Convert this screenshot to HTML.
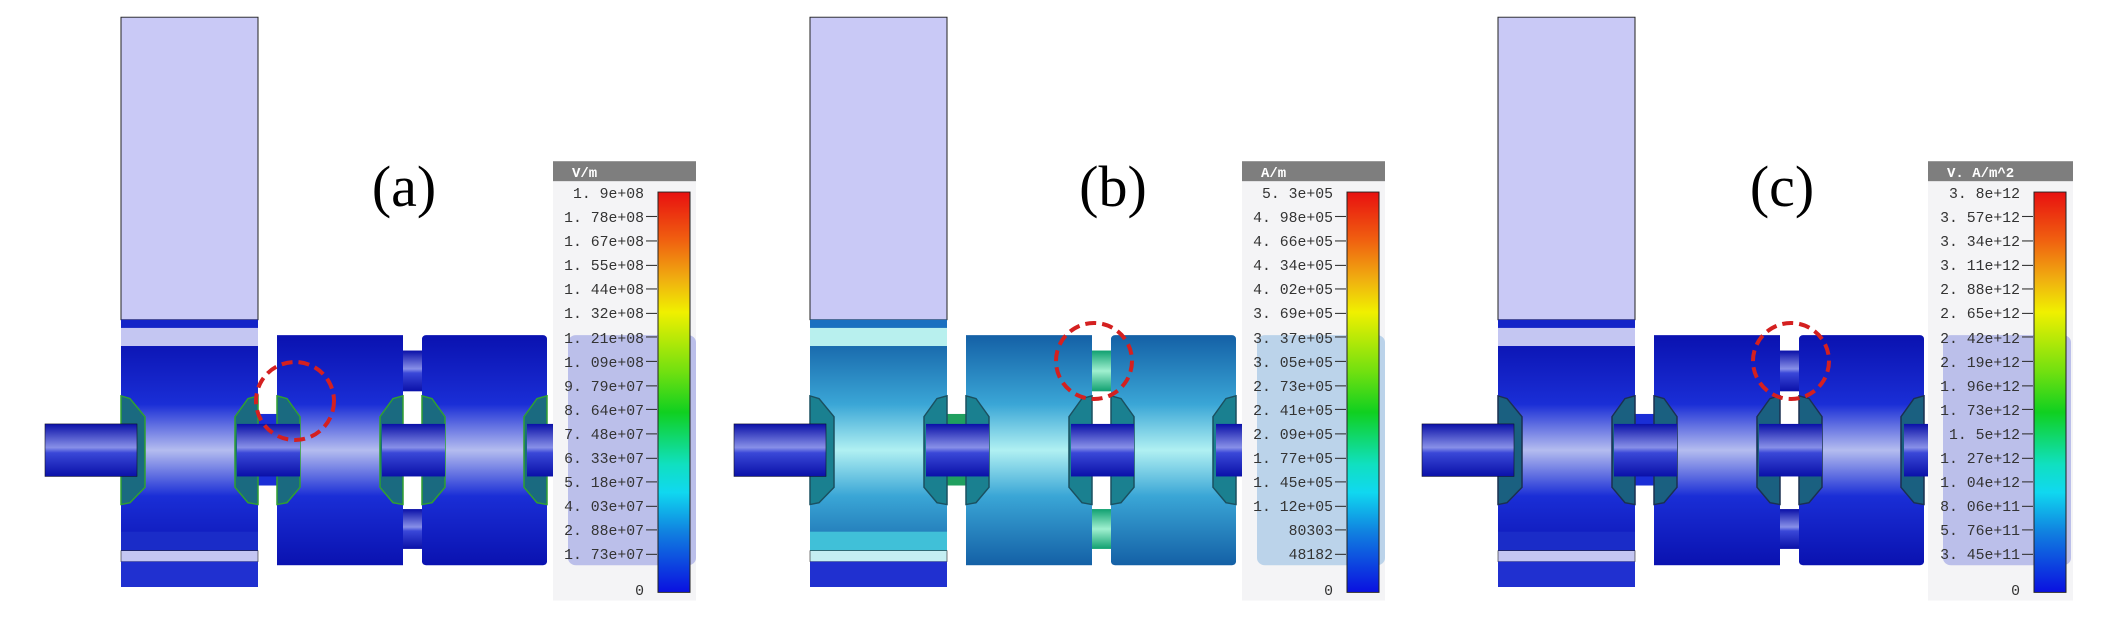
<!DOCTYPE html>
<html><head><meta charset="utf-8"><style>
html,body{margin:0;padding:0;background:#fff;width:2101px;height:634px;overflow:hidden}
svg{display:block}
.lbl{font-family:"Liberation Mono",monospace;font-size:14.8px;fill:#333;text-anchor:end}
.hdr{font-family:"Liberation Mono",monospace;font-size:14px;font-weight:bold;fill:#fff}
.big{font-family:"Liberation Serif",serif;font-size:58px;fill:#000;text-anchor:middle}
</style></head><body>
<svg width="2101" height="634" viewBox="0 0 2101 634" xmlns="http://www.w3.org/2000/svg">
<defs>
<linearGradient id="bodyA" gradientUnits="userSpaceOnUse" x1="0" y1="370" x2="0" y2="624">
<stop offset="0" stop-color="#0a12b0"/><stop offset="0.3" stop-color="#1a2ed6"/><stop offset="0.5" stop-color="#b4bcef"/><stop offset="0.7" stop-color="#1a2ed6"/><stop offset="1" stop-color="#0a12b0"/></linearGradient>
<linearGradient id="bodyB" gradientUnits="userSpaceOnUse" x1="0" y1="370" x2="0" y2="624">
<stop offset="0" stop-color="#1460a6"/><stop offset="0.3" stop-color="#3aa6d6"/><stop offset="0.5" stop-color="#b0f0f2"/><stop offset="0.7" stop-color="#3aa6d6"/><stop offset="1" stop-color="#1460a6"/></linearGradient>
<linearGradient id="shaft" gradientUnits="objectBoundingBox" x1="0" y1="0" x2="0" y2="1">
<stop offset="0" stop-color="#0a10a8"/><stop offset="0.45" stop-color="#8890e8"/><stop offset="0.55" stop-color="#3a48d8"/><stop offset="1" stop-color="#0a10a8"/></linearGradient>
<linearGradient id="tubeB" gradientUnits="objectBoundingBox" x1="0" y1="0" x2="0" y2="1">
<stop offset="0" stop-color="#10a070"/><stop offset="0.5" stop-color="#a0f0d0"/><stop offset="1" stop-color="#10a070"/></linearGradient>
<linearGradient id="cbar" x1="0" y1="0" x2="0" y2="1">
<stop offset="0" stop-color="#e81010"/><stop offset="0.12" stop-color="#f06010"/><stop offset="0.22" stop-color="#f0b010"/><stop offset="0.3" stop-color="#f0f000"/><stop offset="0.45" stop-color="#70e010"/><stop offset="0.55" stop-color="#10d020"/><stop offset="0.68" stop-color="#10e0c0"/><stop offset="0.75" stop-color="#10d8f0"/><stop offset="0.85" stop-color="#1080e0"/><stop offset="1" stop-color="#0a10e0"/></linearGradient>
</defs>

<!-- PANEL A -->
<g>
<g transform="scale(1,0.9058)">
<rect x="121" y="19" width="137" height="334" fill="#c9c9f6" stroke="#222" stroke-width="1"/>
<rect x="121" y="353" width="137" height="295" fill="url(#bodyA)"/>
<rect x="121" y="353" width="137" height="9" fill="#1424c8"/>
<rect x="121" y="362" width="137" height="20" fill="#c4c6f2"/>
<rect x="121" y="587" width="137" height="21" fill="#1a2cc8"/>
<rect x="121" y="608" width="137" height="12" fill="#c4c6f2" stroke="#222" stroke-width="0.6"/>
<rect x="121" y="620" width="137" height="28" fill="#2030d0"/>
<rect x="258" y="457" width="19" height="79" fill="#1a2ed6"/>
<rect x="277" y="370" width="126" height="254" fill="url(#bodyA)"/>
<rect x="422" y="370" width="125" height="254" rx="4" fill="url(#bodyA)"/>
<rect x="403" y="387" width="19" height="45" fill="url(#shaft)"/>
<rect x="403" y="562" width="19" height="44" fill="url(#shaft)"/>
<g fill="#1a6a80" stroke="#30a030" stroke-width="1.5">
<polygon points="121,437 130,440 145,460 145,538 130,555 121,557"/>
<polygon points="258,437 248,440 235,460 235,538 248,555 258,557"/>
<polygon points="277,437 287,440 300,460 300,538 287,555 277,557"/>
<polygon points="403,437 393,440 380,460 380,538 393,555 403,557"/>
<polygon points="422,437 432,440 445,460 445,538 432,555 422,557"/>
<polygon points="547,437 537,440 524,460 524,538 537,555 547,557"/>
</g>
<rect x="45" y="468" width="92" height="58" fill="url(#shaft)" stroke="#112" stroke-width="0.6"/>
<rect x="237" y="468" width="63" height="58" fill="url(#shaft)"/>
<rect x="382" y="468" width="63" height="58" fill="url(#shaft)"/>
<rect x="527" y="468" width="63" height="58" fill="url(#shaft)"/>
<rect x="553" y="178" width="143" height="485" fill="#f4f4f6"/>
<rect x="568" y="370" width="128" height="254" rx="8" fill="#a8aee6" fill-opacity="0.75"/>
<rect x="553" y="178" width="143" height="22" fill="#7e7e7e"/>
<rect x="658" y="212" width="32" height="442" fill="url(#cbar)" stroke="#222" stroke-width="1"/>
<g stroke="#333" stroke-width="1.2">
<line x1="646" y1="239" x2="657" y2="239"/><line x1="646" y1="266" x2="657" y2="266"/><line x1="646" y1="293" x2="657" y2="293"/><line x1="646" y1="319" x2="657" y2="319"/><line x1="646" y1="346" x2="657" y2="346"/><line x1="646" y1="372" x2="657" y2="372"/><line x1="646" y1="399" x2="657" y2="399"/><line x1="646" y1="426" x2="657" y2="426"/><line x1="646" y1="452" x2="657" y2="452"/><line x1="646" y1="479" x2="657" y2="479"/><line x1="646" y1="506" x2="657" y2="506"/><line x1="646" y1="532" x2="657" y2="532"/><line x1="646" y1="559" x2="657" y2="559"/><line x1="646" y1="585" x2="657" y2="585"/><line x1="646" y1="612" x2="657" y2="612"/>
</g>
</g>
<circle cx="295" cy="401" r="39" fill="none" stroke="#d42020" stroke-width="4" stroke-dasharray="11,6"/>
<text class="hdr" x="572" y="177">V/m</text>
<g class="lbl">
<text x="644" y="198">1. 9e+08</text><text x="644" y="222">1. 78e+08</text><text x="644" y="246">1. 67e+08</text><text x="644" y="270">1. 55e+08</text><text x="644" y="294">1. 44e+08</text><text x="644" y="318">1. 32e+08</text><text x="644" y="343">1. 21e+08</text><text x="644" y="367">1. 09e+08</text><text x="644" y="391">9. 79e+07</text><text x="644" y="415">8. 64e+07</text><text x="644" y="439">7. 48e+07</text><text x="644" y="463">6. 33e+07</text><text x="644" y="487">5. 18e+07</text><text x="644" y="511">4. 03e+07</text><text x="644" y="535">2. 88e+07</text><text x="644" y="559">1. 73e+07</text><text x="644" y="595">0</text>
</g>
<text class="big" x="404" y="206">(a)</text>
</g>

<!-- PANEL B -->
<g transform="translate(689,0)">
<g transform="scale(1,0.9058)">
<rect x="121" y="19" width="137" height="334" fill="#c9c9f6" stroke="#222" stroke-width="1"/>
<rect x="121" y="353" width="137" height="295" fill="url(#bodyB)"/>
<rect x="121" y="353" width="137" height="9" fill="#1a70c0"/>
<rect x="121" y="362" width="137" height="20" fill="#b8f0ee"/>
<rect x="121" y="587" width="137" height="21" fill="#40c0d8"/>
<rect x="121" y="608" width="137" height="12" fill="#c4eef2" stroke="#222" stroke-width="0.6"/>
<rect x="121" y="620" width="137" height="28" fill="#2030d0"/>
<rect x="258" y="457" width="19" height="79" fill="#20a060"/>
<rect x="277" y="370" width="126" height="254" fill="url(#bodyB)"/>
<rect x="422" y="370" width="125" height="254" rx="4" fill="url(#bodyB)"/>
<rect x="403" y="387" width="19" height="45" fill="url(#tubeB)"/>
<rect x="403" y="562" width="19" height="44" fill="url(#tubeB)"/>
<g fill="#1a8090" stroke="#1a5060" stroke-width="1.5">
<polygon points="121,437 130,440 145,460 145,538 130,555 121,557"/>
<polygon points="258,437 248,440 235,460 235,538 248,555 258,557"/>
<polygon points="277,437 287,440 300,460 300,538 287,555 277,557"/>
<polygon points="403,437 393,440 380,460 380,538 393,555 403,557"/>
<polygon points="422,437 432,440 445,460 445,538 432,555 422,557"/>
<polygon points="547,437 537,440 524,460 524,538 537,555 547,557"/>
</g>
<rect x="45" y="468" width="92" height="58" fill="url(#shaft)" stroke="#112" stroke-width="0.6"/>
<rect x="237" y="468" width="63" height="58" fill="url(#shaft)"/>
<rect x="382" y="468" width="63" height="58" fill="url(#shaft)"/>
<rect x="527" y="468" width="63" height="58" fill="url(#shaft)"/>
<rect x="553" y="178" width="143" height="485" fill="#f4f4f6"/>
<rect x="568" y="370" width="128" height="254" rx="8" fill="#a8c8e6" fill-opacity="0.75"/>
<rect x="553" y="178" width="143" height="22" fill="#7e7e7e"/>
<rect x="658" y="212" width="32" height="442" fill="url(#cbar)" stroke="#222" stroke-width="1"/>
<g stroke="#333" stroke-width="1.2">
<line x1="646" y1="239" x2="657" y2="239"/><line x1="646" y1="266" x2="657" y2="266"/><line x1="646" y1="293" x2="657" y2="293"/><line x1="646" y1="319" x2="657" y2="319"/><line x1="646" y1="346" x2="657" y2="346"/><line x1="646" y1="372" x2="657" y2="372"/><line x1="646" y1="399" x2="657" y2="399"/><line x1="646" y1="426" x2="657" y2="426"/><line x1="646" y1="452" x2="657" y2="452"/><line x1="646" y1="479" x2="657" y2="479"/><line x1="646" y1="506" x2="657" y2="506"/><line x1="646" y1="532" x2="657" y2="532"/><line x1="646" y1="559" x2="657" y2="559"/><line x1="646" y1="585" x2="657" y2="585"/><line x1="646" y1="612" x2="657" y2="612"/>
</g>
</g>
<circle cx="405" cy="361" r="38" fill="none" stroke="#d42020" stroke-width="4" stroke-dasharray="11,6"/>
<text class="hdr" x="572" y="177">A/m</text>
<g class="lbl">
<text x="644" y="198">5. 3e+05</text><text x="644" y="222">4. 98e+05</text><text x="644" y="246">4. 66e+05</text><text x="644" y="270">4. 34e+05</text><text x="644" y="294">4. 02e+05</text><text x="644" y="318">3. 69e+05</text><text x="644" y="343">3. 37e+05</text><text x="644" y="367">3. 05e+05</text><text x="644" y="391">2. 73e+05</text><text x="644" y="415">2. 41e+05</text><text x="644" y="439">2. 09e+05</text><text x="644" y="463">1. 77e+05</text><text x="644" y="487">1. 45e+05</text><text x="644" y="511">1. 12e+05</text><text x="644" y="535">80303</text><text x="644" y="559">48182</text><text x="644" y="595">0</text>
</g>
<text class="big" x="424" y="206">(b)</text>
</g>

<!-- PANEL C -->
<g transform="translate(1377,0)">
<g transform="scale(1,0.9058)">
<rect x="121" y="19" width="137" height="334" fill="#c9c9f6" stroke="#222" stroke-width="1"/>
<rect x="121" y="353" width="137" height="295" fill="url(#bodyA)"/>
<rect x="121" y="353" width="137" height="9" fill="#1424c8"/>
<rect x="121" y="362" width="137" height="20" fill="#c4c6f2"/>
<rect x="121" y="587" width="137" height="21" fill="#1a2cc8"/>
<rect x="121" y="608" width="137" height="12" fill="#c4c6f2" stroke="#222" stroke-width="0.6"/>
<rect x="121" y="620" width="137" height="28" fill="#2030d0"/>
<rect x="258" y="457" width="19" height="79" fill="#1a2ed6"/>
<rect x="277" y="370" width="126" height="254" fill="url(#bodyA)"/>
<rect x="422" y="370" width="125" height="254" rx="4" fill="url(#bodyA)"/>
<rect x="403" y="387" width="19" height="45" fill="url(#shaft)"/>
<rect x="403" y="562" width="19" height="44" fill="url(#shaft)"/>
<g fill="#1a6080" stroke="#1a3050" stroke-width="1.5">
<polygon points="121,437 130,440 145,460 145,538 130,555 121,557"/>
<polygon points="258,437 248,440 235,460 235,538 248,555 258,557"/>
<polygon points="277,437 287,440 300,460 300,538 287,555 277,557"/>
<polygon points="403,437 393,440 380,460 380,538 393,555 403,557"/>
<polygon points="422,437 432,440 445,460 445,538 432,555 422,557"/>
<polygon points="547,437 537,440 524,460 524,538 537,555 547,557"/>
</g>
<rect x="45" y="468" width="92" height="58" fill="url(#shaft)" stroke="#112" stroke-width="0.6"/>
<rect x="237" y="468" width="63" height="58" fill="url(#shaft)"/>
<rect x="382" y="468" width="63" height="58" fill="url(#shaft)"/>
<rect x="527" y="468" width="63" height="58" fill="url(#shaft)"/>
<rect x="551" y="178" width="145" height="485" fill="#f4f4f6"/>
<rect x="566" y="370" width="128" height="254" rx="8" fill="#a8aee6" fill-opacity="0.75"/>
<rect x="551" y="178" width="145" height="22" fill="#7e7e7e"/>
<rect x="657" y="212" width="32" height="442" fill="url(#cbar)" stroke="#222" stroke-width="1"/>
<g stroke="#333" stroke-width="1.2">
<line x1="645" y1="239" x2="656" y2="239"/><line x1="645" y1="266" x2="656" y2="266"/><line x1="645" y1="293" x2="656" y2="293"/><line x1="645" y1="319" x2="656" y2="319"/><line x1="645" y1="346" x2="656" y2="346"/><line x1="645" y1="372" x2="656" y2="372"/><line x1="645" y1="399" x2="656" y2="399"/><line x1="645" y1="426" x2="656" y2="426"/><line x1="645" y1="452" x2="656" y2="452"/><line x1="645" y1="479" x2="656" y2="479"/><line x1="645" y1="506" x2="656" y2="506"/><line x1="645" y1="532" x2="656" y2="532"/><line x1="645" y1="559" x2="656" y2="559"/><line x1="645" y1="585" x2="656" y2="585"/><line x1="645" y1="612" x2="656" y2="612"/>
</g>
</g>
<circle cx="414" cy="361" r="38" fill="none" stroke="#d42020" stroke-width="4" stroke-dasharray="11,6"/>
<text class="hdr" x="570" y="177">V. A/m^2</text>
<g class="lbl">
<text x="643" y="198">3. 8e+12</text><text x="643" y="222">3. 57e+12</text><text x="643" y="246">3. 34e+12</text><text x="643" y="270">3. 11e+12</text><text x="643" y="294">2. 88e+12</text><text x="643" y="318">2. 65e+12</text><text x="643" y="343">2. 42e+12</text><text x="643" y="367">2. 19e+12</text><text x="643" y="391">1. 96e+12</text><text x="643" y="415">1. 73e+12</text><text x="643" y="439">1. 5e+12</text><text x="643" y="463">1. 27e+12</text><text x="643" y="487">1. 04e+12</text><text x="643" y="511">8. 06e+11</text><text x="643" y="535">5. 76e+11</text><text x="643" y="559">3. 45e+11</text><text x="643" y="595">0</text>
</g>
<text class="big" x="405" y="206">(c)</text>
</g>
</svg>
</body></html>
